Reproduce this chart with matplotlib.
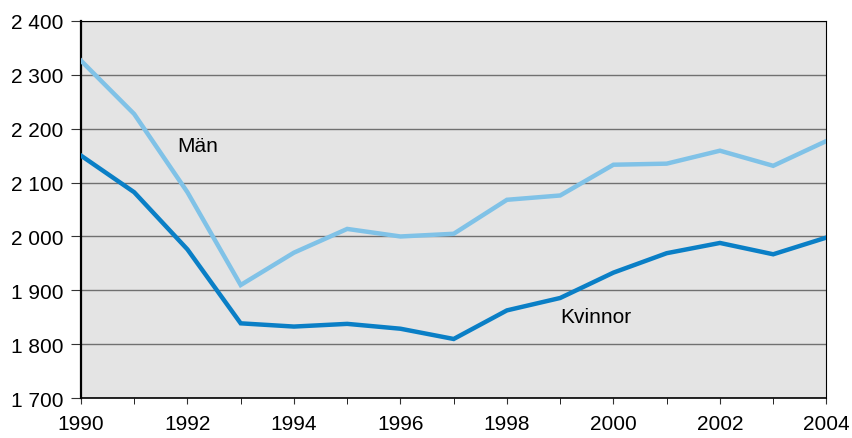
import matplotlib
matplotlib.use("Agg")
import matplotlib.pyplot as plt
from matplotlib.ticker import FuncFormatter, MultipleLocator

years = list(range(1990, 2005))
man = [2326, 2227, 2082, 1910, 1970, 2014, 2000, 2005, 2068, 2076, 2133, 2135, 2159, 2131, 2177]
kvinnor = [2150, 2082, 1976, 1839, 1833, 1838, 1829, 1810, 1863, 1886, 1933, 1969, 1988, 1967, 1998]

plt.rcParams['font.family'] = ['Liberation Sans', 'DejaVu Sans']

fig = plt.figure(figsize=(8.52, 4.39), dpi=100)
ax = fig.add_axes([0.095, 0.0904, 0.875, 0.8602])
ax.set_facecolor('#e4e4e4')

ax.plot(years, man, color='#80c2e7', lw=3.2, solid_joinstyle='miter', zorder=3)
ax.plot(years, kvinnor, color='#0a7fc6', lw=3.2, solid_joinstyle='miter', zorder=3)

ax.text(1991.8, 2168, 'Män', fontsize=15, va='center', ha='left')
ax.text(1999.0, 1851, 'Kvinnor', fontsize=15, va='center', ha='left')

ax.set_xlim(1990, 2004)
ax.set_ylim(1700, 2400)
ax.yaxis.set_major_locator(MultipleLocator(100))
ax.yaxis.set_major_formatter(FuncFormatter(lambda v, p: f"{int(v):,}".replace(',', ' ')))
ax.xaxis.set_major_locator(MultipleLocator(2))
ax.xaxis.set_minor_locator(MultipleLocator(1))
ax.grid(axis='y', color='#707070', lw=1)
ax.set_axisbelow(True)

for s in ['top', 'right']:
    ax.spines[s].set_linewidth(0.8)
ax.spines['left'].set_linewidth(1.6)
ax.spines['bottom'].set_linewidth(1.2)

ax.tick_params(axis='both', labelsize=15, direction='out', color='#333333')
ax.tick_params(axis='y', length=7, pad=5.5)
ax.tick_params(axis='x', which='both', length=4.3, pad=7)

fig.savefig('out.png', dpi=100)
